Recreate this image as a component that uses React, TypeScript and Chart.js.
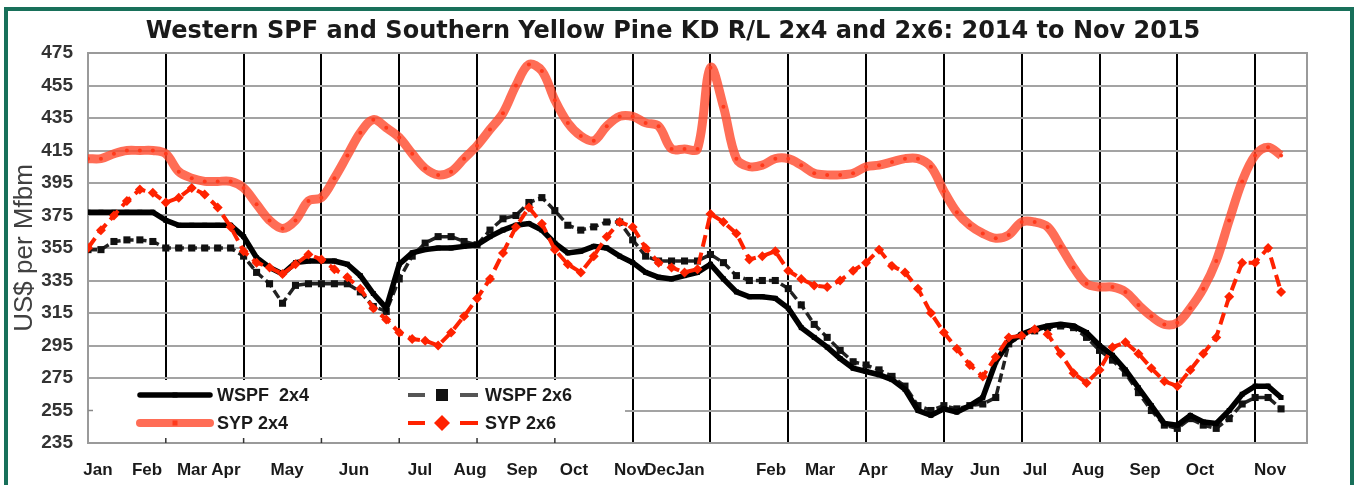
import React, { useEffect, useRef } from "react";
import { Chart, registerables } from "chart.js";

Chart.register(...registerables);

const TITLE = "Western SPF and Southern Yellow Pine KD R/L 2x4 and 2x6: 2014 to Nov 2015";
const Y_TITLE = "US$ per Mfbm";

// x axis: weekly slots 0..94, vertical grid lines every 6 weeks
const X_MAX = 94;
const GRID_EVERY = 6;

const MONTH_LABELS = [
  "Jan", "Feb", "Mar", "Apr", "May", "Jun", "Jul", "Aug", "Sep", "Oct", "Nov", "Dec",
  "Jan", "Feb", "Mar", "Apr", "May", "Jun", "Jul", "Aug", "Sep", "Oct", "Nov",
];
const MONTH_POS = [
  0.77, 4.55, 8.02, 10.64, 15.35, 20.51, 25.6, 29.46, 33.47, 37.48, 41.8, 44.1,
  46.42, 52.67, 56.45, 60.53, 65.47, 69.17, 73.03, 77.11, 81.51, 85.75, 91.15,
];

const Y_MIN = 235;
const Y_MAX = 475;
const Y_STEP = 20;

const WSPF_2X4 = [
  377, 377, 377, 377, 377, 377, 372, 369, 369, 369,
  369, 369, 362, 349, 343, 339, 346, 347, 347, 347,
  345, 338, 327, 318, 345, 352, 354, 355, 355, 356,
  357, 362, 366, 369, 370, 366, 358, 352, 353, 356,
  355, 350, 346, 340, 337, 336, 338, 340, 345, 336,
  328, 325, 325, 324, 318, 306, 300, 294, 287, 281,
  279, 277, 274, 268, 255, 252, 256, 254, 258, 263,
  285, 297, 302, 305, 307, 308, 307, 303, 295, 289,
  280, 269, 258, 247, 246, 252, 248, 247, 255, 265,
  270, 270, 263,
];

const WSPF_2X6 = [
  354, 354, 359, 360, 360, 359, 355, 355, 355, 355,
  355, 355, 350, 340, 333, 321, 332, 333, 333, 333,
  333, 328, 319, 316, 336, 350, 358, 362, 362, 359,
  357, 366, 373, 375, 383, 386, 378, 369, 366, 368,
  371, 371, 360, 350, 347, 347, 347, 347, 351, 346,
  338, 335, 335, 335, 330, 320, 308, 300, 292, 285,
  283, 280, 276, 270, 258, 255, 258, 256, 258, 259,
  263, 296, 301, 304, 306, 307, 306, 300, 292, 286,
  278, 266, 255, 246, 244, 250, 246, 244, 250, 259,
  263, 263, 256,
];

const SYP_2X4 = [
  410, 410, 413, 415, 415, 415, 413, 402, 398, 396,
  396, 396, 392, 382, 372, 367, 372, 384, 386, 398,
  412, 426, 434, 429, 423, 413, 404, 400, 402, 410,
  418, 428, 438, 455, 468, 464, 446, 432, 424, 421,
  430, 436, 436, 432, 430, 416, 416, 416, 466, 442,
  410, 405, 406, 410, 410, 406, 401, 400, 400, 401,
  405, 406, 408, 410, 410, 405, 390, 377, 369, 364,
  361, 363, 371, 371, 368, 356, 343, 333, 331, 331,
  328, 320, 313, 308, 309, 318, 330, 347, 372, 396,
  412, 417, 412,
];

const SYP_2X6 = [
  355, 366, 375, 384, 391, 389, 383, 386, 392, 388,
  380, 368, 353, 346, 343, 339, 345, 351, 348, 342,
  337, 330, 318, 311, 303, 299, 298, 295, 303, 313,
  324, 336, 352, 368, 380, 370, 354, 345, 340, 350,
  362, 371, 368, 355, 346, 343, 340, 342, 376, 371,
  364, 348, 350, 353, 341, 336, 332, 331, 335, 341,
  346, 354, 344, 340, 330, 315, 303, 293, 283, 276,
  288, 300, 301, 305, 302, 290, 278, 272, 280, 294,
  297, 290, 281, 273, 270, 280, 290, 300, 325, 346,
  346, 355, 328,
];

const SERIES_LABELS = ["WSPF  2x4", "WSPF 2x6", "SYP 2x4", "SYP 2x6"];

const FONT = '"Liberation Sans", Arial, sans-serif';
const TITLE_FONT = '"DejaVu Sans", sans-serif';

const toPts = (arr: number[]) => arr.map((v, i) => ({ x: i, y: v }));

function drawMarker(ctx: CanvasRenderingContext2D, style: string, x: number, y: number, r: number, color: string) {
  ctx.fillStyle = color;
  ctx.beginPath();
  if (style === "rectRot") {
    ctx.moveTo(x, y - r);
    ctx.lineTo(x + r, y);
    ctx.lineTo(x, y + r);
    ctx.lineTo(x - r, y);
    ctx.closePath();
  } else if (style === "rect") {
    ctx.rect(x - r, y - r, 2 * r, 2 * r);
  } else {
    ctx.arc(x, y, r, 0, Math.PI * 2);
  }
  ctx.fill();
}

const decorPlugin = {
  id: "decor",
  beforeDatasetsDraw(chart: any) {
    const { ctx, chartArea: a, scales } = chart;
    const xs = scales.x;
    const ys = scales.y;
    ctx.save();
    // plot frame (top / right)
    ctx.strokeStyle = "#9a9a9a";
    ctx.lineWidth = 2;
    ctx.strokeRect(a.left, a.top, a.right - a.left, a.bottom - a.top);

    // white legend panel inside the plot
    const boxTop = ys.getPixelForValue(275) + 2;
    const boxRight = a.left + 537;
    ctx.fillStyle = "#ffffff";
    ctx.fillRect(a.left + 1, boxTop, boxRight - a.left - 1, a.bottom - 1 - boxTop);

    // small inside tick marks at the bottom under the panel
    ctx.strokeStyle = "#333";
    ctx.lineWidth = 1.5;
    for (let v = GRID_EVERY; v < X_MAX; v += GRID_EVERY) {
      const px = xs.getPixelForValue(v);
      if (px > boxRight) break;
      ctx.beginPath();
      ctx.moveTo(px, a.bottom - 5);
      ctx.lineTo(px, a.bottom);
      ctx.stroke();
    }
    const t255 = ys.getPixelForValue(255);
    ctx.strokeStyle = "#888";
    ctx.beginPath();
    ctx.moveTo(a.left, t255);
    ctx.lineTo(a.left + 5, t255);
    ctx.stroke();

    // legend entries
    const ds = chart.data.datasets;
    const cols = [a.left + 52, a.left + 320];
    const rows = [boxTop + 15, boxTop + 43];
    const place = [
      [0, 0],
      [1, 0],
      [0, 1],
      [1, 1],
    ];
    ds.forEach((d: any, i: number) => {
      const [c, r] = place[i];
      const x0 = cols[c];
      const x1 = x0 + 70;
      const yy = rows[r];
      ctx.lineCap = "butt";
      ctx.setLineDash([]);
      ctx.strokeStyle = d.legendLine || d.borderColor;
      ctx.lineWidth = d.legendWidth || d.borderWidth;
      if (d.borderDash && d.borderDash.length) {
        ctx.beginPath();
        ctx.moveTo(x0, yy);
        ctx.lineTo(x0 + 17, yy);
        ctx.moveTo(x1 - 18, yy);
        ctx.lineTo(x1, yy);
        ctx.stroke();
        drawMarker(ctx, d.pointStyle, x0 + 34, yy, d.pointStyle === "rectRot" ? 8 : 6, d.pointBackgroundColor);
      } else {
        ctx.lineCap = "round";
        ctx.beginPath();
        ctx.moveTo(x0, yy);
        ctx.lineTo(x1, yy);
        ctx.stroke();
        drawMarker(ctx, "rect", x0 + 35, yy, 2.5, d.pointBackgroundColor);
      }
      ctx.fillStyle = "#1a1a1a";
      ctx.font = `bold 18px ${FONT}`;
      ctx.textAlign = "left";
      ctx.textBaseline = "middle";
      ctx.fillText(d.label, x1 + 7, yy + 1);
    });
    ctx.restore();
  },
  afterDraw(chart: any) {
    const { ctx } = chart;
    ctx.save();
    ctx.fillStyle = "#1a1a1a";
    ctx.font = `bold 24px ${TITLE_FONT}`;
    ctx.textAlign = "center";
    ctx.textBaseline = "middle";
    ctx.fillText(TITLE, chart.width / 2 - 4, 32);
    ctx.restore();
  },
};

export default function App() {
  const ref = useRef<HTMLCanvasElement>(null);

  useEffect(() => {
    const canvas = ref.current;
    if (!canvas) return;
    const chart = new Chart(canvas, {
      type: "line",
      data: {
        datasets: [
          {
            label: SERIES_LABELS[0],
            data: toPts(WSPF_2X4),
            borderColor: "#000000",
            backgroundColor: "#000000",
            borderWidth: 5.5,
            pointStyle: "rect",
            pointRadius: 3.5,
            pointBackgroundColor: "#000000",
            pointBorderWidth: 0,
            order: 2,
          },
          {
            label: SERIES_LABELS[1],
            data: toPts(WSPF_2X6),
            borderColor: "#222222",
            backgroundColor: "#111111",
            borderWidth: 3.5,
            borderDash: [9, 4],
            pointStyle: "rect",
            pointRadius: 5,
            pointBackgroundColor: "#111111",
            pointBorderWidth: 0,
            legendLine: "#555555",
            legendWidth: 4,
            order: 3,
          } as any,
          {
            label: SERIES_LABELS[2],
            data: toPts(SYP_2X4),
            borderColor: "rgba(255,72,44,0.8)",
            backgroundColor: "rgba(255,72,44,0.8)",
            borderWidth: 9,
            pointStyle: "circle",
            pointRadius: 2,
            pointBackgroundColor: "#ff3a1c",
            pointBorderWidth: 0,
            tension: 0.35,
            legendWidth: 8,
            order: 1,
          } as any,
          {
            label: SERIES_LABELS[3],
            data: toPts(SYP_2X6),
            borderColor: "#ff2200",
            backgroundColor: "#ff2200",
            borderWidth: 4,
            borderDash: [12, 6],
            pointStyle: "rectRot",
            pointRadius: 5,
            pointBackgroundColor: "#ff2200",
            pointBorderWidth: 0,
            order: 0,
          },
        ],
      },
      options: {
        animation: false,
        responsive: false,
        devicePixelRatio: 1,
        events: [],
        layout: { padding: { left: 0, right: 47, top: 53, bottom: 0 } },
        plugins: {
          legend: { display: false },
          tooltip: { enabled: false },
          title: { display: false },
        },
        scales: {
          x: {
            type: "linear",
            min: 0,
            max: X_MAX,
            afterBuildTicks: (scale: any) => {
              const t: any[] = [];
              for (let v = GRID_EVERY; v < X_MAX; v += GRID_EVERY) t.push({ value: v, kind: "grid" });
              MONTH_POS.forEach((p, k) => t.push({ value: p, kind: "month", text: MONTH_LABELS[k] }));
              scale.ticks = t;
            },
            afterFit: (scale: any) => {
              scale.height = 42;
            },
            ticks: {
              autoSkip: false,
              maxRotation: 0,
              minRotation: 0,
              padding: 17,
              color: "#1a1a1a",
              font: { family: FONT, size: 17, weight: "bold" },
              callback: (_v: any, i: number, ticks: any[]) =>
                ticks[i] && ticks[i].kind === "month" ? ticks[i].text : "",
            },
            grid: {
              drawTicks: false,
              lineWidth: 2,
              color: (c: any) => (c.tick && c.tick.kind === "grid" ? "#000000" : "rgba(0,0,0,0)"),
            },
            border: { display: true, color: "#9a9a9a", width: 2 },
          } as any,
          y: {
            min: Y_MIN,
            max: Y_MAX,
            afterFit: (scale: any) => {
              scale.width = 88;
            },
            ticks: {
              stepSize: Y_STEP,
              padding: 15,
              color: "#333333",
              font: { family: FONT, size: 19, weight: "bold" },
            },
            grid: { drawTicks: false, color: "#a3a3a3", lineWidth: 2 },
            border: { display: true, color: "#9a9a9a", width: 2 },
            title: {
              display: true,
              text: Y_TITLE,
              color: "#404040",
              font: { family: FONT, size: 26 },
              padding: { top: 9, bottom: 0 },
            },
          } as any,
        },
      },
      plugins: [decorPlugin],
    } as any);
    return () => chart.destroy();
  }, []);

  return (
    <div
      style={{
        position: "absolute",
        left: 0,
        top: 0,
        width: 1354,
        height: 485,
        overflow: "hidden",
        background: "#ffffff",
      }}
    >
      <div
        style={{
          position: "absolute",
          left: 4,
          top: 7,
          width: 1350,
          height: 540,
          border: "4px solid #18705a",
          boxSizing: "border-box",
        }}
      />
      <canvas
        ref={ref}
        width={1354}
        height={485}
        style={{ position: "absolute", left: 0, top: 0, width: 1354, height: 485 }}
      />
    </div>
  );
}
